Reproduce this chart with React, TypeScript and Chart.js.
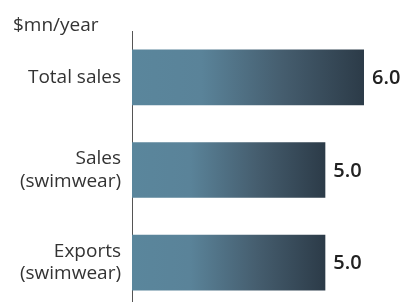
import React, { useEffect, useRef } from "react";
import { Chart, registerables } from "chart.js";

Chart.register(...registerables);

const categories: (string | string[])[] = ["Total sales", ["Sales", "(swimwear)"], ["Exports", "(swimwear)"]];
const values: number[] = [6.0, 5.0, 5.0];
const unitLabel = "$mn/year";
const FONT = "'Open Sans'";

export default function App() {
  const ref = useRef<HTMLCanvasElement | null>(null);
  useEffect(() => {
    document.body.style.margin = "0";
    document.body.style.overflow = "hidden";
    const canvas = ref.current!;
    const valueLabels = {
      id: "valueLabels",
      afterDatasetsDraw(chart: any) {
        const ctx = chart.ctx;
        const meta = chart.getDatasetMeta(0);
        ctx.save();
        ctx.font = `600 20px ${FONT}`;
        ctx.fillStyle = "#222";
        ctx.textBaseline = "middle";
        ctx.textAlign = "left";
        meta.data.forEach((bar: any, i: number) => {
          ctx.fillText(values[i].toFixed(1), bar.x + 8, bar.y + 1);
        });
        ctx.font = `19px ${FONT}`;
        ctx.fillStyle = "#333";
        ctx.textBaseline = "alphabetic";
        ctx.fillText(unitLabel, 13, 31);
        ctx.restore();
      },
    };
    const chart = new Chart(canvas, {
      type: "bar",
      data: {
        labels: categories,
        datasets: [
          {
            data: values,
            barPercentage: 0.6,
            categoryPercentage: 1,
            borderWidth: 0,
            backgroundColor: (c: any) => {
              const ch = c.chart;
              const area = ch.chartArea;
              if (!area || c.raw === undefined) return "#4a6a80";
              const x0 = ch.scales.x.getPixelForValue(0);
              const x1 = ch.scales.x.getPixelForValue(c.raw);
              const g = ch.ctx.createLinearGradient(x0, 0, x1, 0);
              g.addColorStop(0, "#5a869c");
              g.addColorStop(0.3, "#5a8399");
              g.addColorStop(0.65, "#455d6e");
              g.addColorStop(1, "#2c3b48");
              return g;
            },
          },
        ],
      },
      options: {
        indexAxis: "y",
        animation: false,
        responsive: false,
        layout: { padding: { left: 0, right: 37, top: 31, bottom: 1 } },
        plugins: { legend: { display: false }, tooltip: { enabled: false } },
        scales: {
          x: { display: false, min: 0, max: 6 },
          y: {
            afterFit: (s: any) => {
              s.width = 132;
              s.paddingTop = 0;
              s.paddingBottom = 0;
            },
            border: { display: true, color: "#555", width: 1 },
            grid: { display: false, drawTicks: false },
            ticks: {
              padding: 11,
              color: "#333",
              font: { family: "'Open Sans'", size: 19, lineHeight: 1.17 },
            },
          },
        },
      },
      plugins: [valueLabels],
    });
    return () => chart.destroy();
  }, []);
  return <canvas ref={ref} width={401} height={310} style={{ display: "block", width: 401, height: 310 }} />;
}
